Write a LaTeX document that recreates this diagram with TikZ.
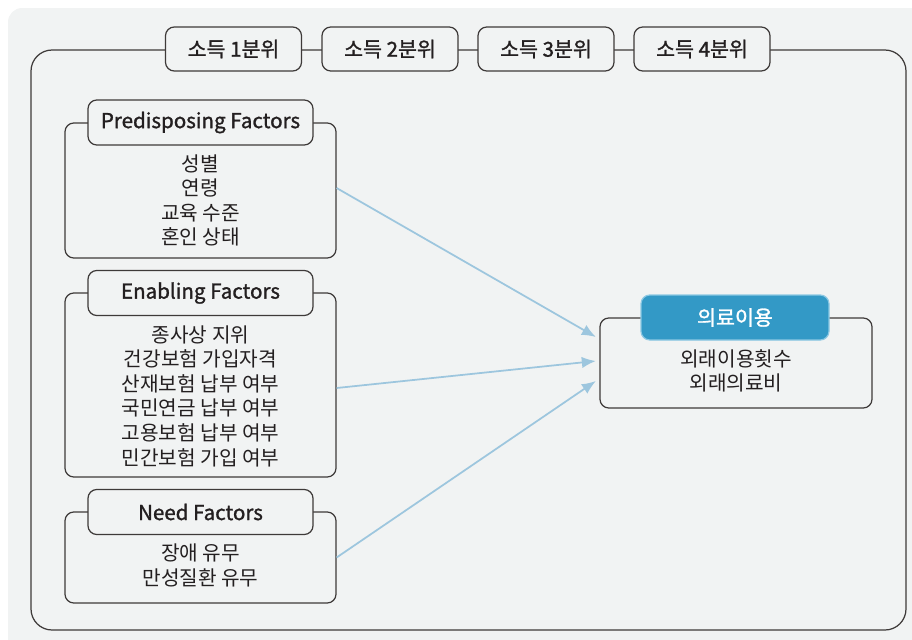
\documentclass[tikz,border=0pt]{standalone}
\usepackage{fontspec}
\setmainfont{Noto Sans CJK KR}
\newfontfamily\headfont{Noto Sans CJK KR}[FakeBold=1.3]
\usepackage{tikz}
\usetikzlibrary{arrows.meta,positioning}
\definecolor{bgcol}{HTML}{F1F3F3}
\definecolor{linecol}{HTML}{3E3A39}
\definecolor{txtcol}{HTML}{231F20}
\definecolor{headblue}{HTML}{3399C6}
\definecolor{headrim}{HTML}{8CC8E3}
\definecolor{arrowcol}{HTML}{9DC6DE}

\begin{document}
\begin{tikzpicture}[every node/.style={text=txtcol, font=\fontsize{11.5}{14}\selectfont},
    frame/.style={draw=linecol, line width=0.7pt, rounded corners=5pt},
    head/.style={frame, fill=bgcol, minimum height=0.9cm, inner sep=0pt, font=\headfont\fontsize{11.7}{14}\selectfont},
    quint/.style={head, minimum width=2.72cm, minimum height=0.88cm},
    group/.style={frame, minimum width=5.42cm, inner sep=0pt},
    items/.style={align=center, inner sep=0pt},
    link/.style={-{Latex[length=8pt,width=6.5pt]}, draw=arrowcol, line width=1pt}]
    \useasboundingbox (0,0) rectangle (18.24,-12.78);
    \clip (0,0) rectangle (18.24,-12.78);
    \fill[bgcol, rounded corners=8pt] (0.16,-0.16) rectangle (18.8,-13.3);

    % outer frame and income quintiles
    \node[frame, rounded corners=12pt, minimum width=17.5cm, minimum height=11.6cm] (outer) at (9.37,-6.8) {};
    \foreach \q/\x in {1/4.67, 2/7.8, 3/10.92, 4/14.04} {
        \node[quint] (q\q) at (\x,-0.98) {소득 \q{}분위};
    }

    % predictors
    \node[group, minimum height=2.7cm] (pre) at (4.01,-3.81) {};
    \node[head, minimum width=4.5cm] (prehead) at (4.01,-2.45) {Predisposing Factors};
    \node[items] (preitems) at (4.01,-4.01) {성별\\연령\\교육 수준\\혼인 상태};

    \node[group, minimum height=3.68cm] (enab) at (4.01,-7.7) {};
    \node[head, minimum width=4.5cm] (enabhead) at (4.01,-5.86) {Enabling Factors};
    \node[items] (enabitems) at (4.01,-7.92) {종사상 지위\\건강보험 가입자격\\산재보험 납부 여부\\국민연금 납부 여부\\고용보험 납부 여부\\민간보험 가입 여부};

    \node[group, minimum height=1.82cm] (need) at (4.01,-11.15) {};
    \node[head, minimum width=4.5cm] (needhead) at (4.01,-10.24) {Need Factors};
    \node[items] (needitems) at (4.01,-11.31) {장애 유무\\만성질환 유무};

    % outcome
    \node[group, minimum width=5.44cm, minimum height=1.8cm] (use) at (14.72,-7.26) {};
    \node[head, draw=headrim, fill=headblue, text=white, minimum width=3.76cm] (usehead) at (14.7,-6.35) {의료이용};
    \node[items] (useitems) at (14.72,-7.42) {외래이용횟수\\외래의료비};

    \coordinate (in1) at ([xshift=-2pt, yshift=0.52cm]use.west);
    \coordinate (in2) at ([xshift=-2pt, yshift=0.04cm]use.west);
    \coordinate (in3) at ([xshift=-2pt, yshift=-0.36cm]use.west);
    \draw[link] ([yshift=0.05cm]pre.east) -- (in1);
    \draw[link] ([yshift=-0.06cm]enab.east) -- (in2);
    \draw[link] (need.east) -- (in3);
\end{tikzpicture}
\end{document}
